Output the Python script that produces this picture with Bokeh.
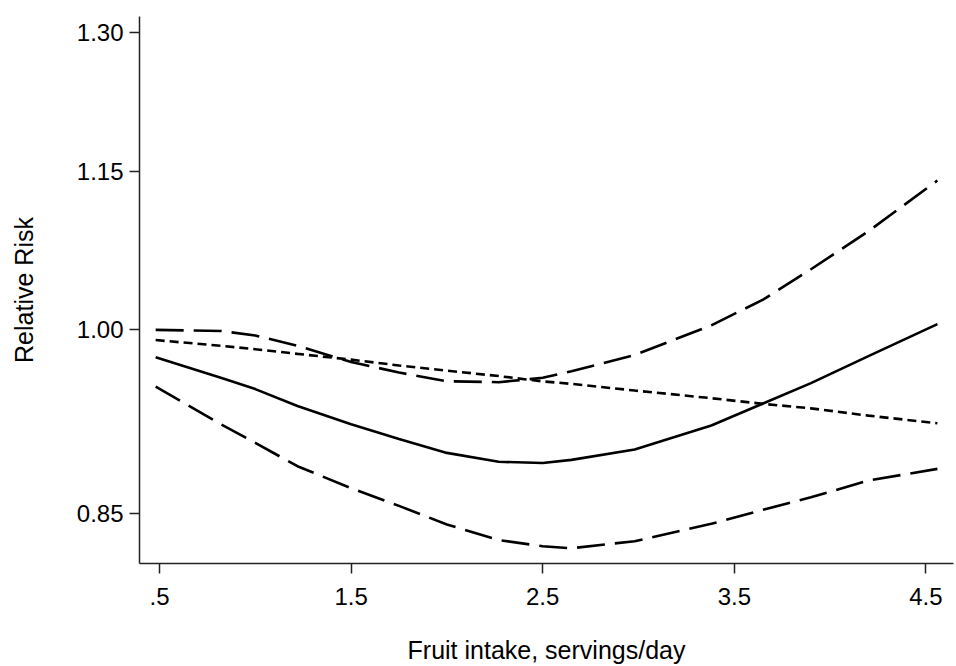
from bokeh.plotting import figure
from bokeh.models import Range1d, FixedTicker, PrintfTickFormatter
from bokeh.embed import file_html
from bokeh.resources import INLINE

# Fruit intake (servings/day)
intake = [0.48, 0.82, 1.0, 1.22, 1.5, 1.75, 2.0, 2.27, 2.5, 2.65, 2.98, 3.38, 3.65, 3.9, 4.2, 4.56]

# Relative risk, non-linear estimate
rr_spline = [0.976, 0.9585, 0.949, 0.935, 0.920, 0.908, 0.897, 0.890, 0.889, 0.8915, 0.8997, 0.919, 0.937, 0.954, 0.977, 1.005]
# Upper 95% CI
rr_upper = [1.000, 0.999, 0.995, 0.986, 0.972, 0.963, 0.9556, 0.9548, 0.9585, 0.964, 0.978, 1.004, 1.027, 1.055, 1.091, 1.141]
# Lower 95% CI
rr_lower = [0.951, 0.920, 0.905, 0.8865, 0.8695, 0.856, 0.842, 0.8305, 0.826, 0.8245, 0.8297, 0.8425, 0.853, 0.8625, 0.8754, 0.8844]
# Linear trend
rr_linear = [0.991, 0.986, 0.983, 0.979, 0.974, 0.969, 0.9646, 0.960, 0.9555, 0.9534, 0.9478, 0.9414, 0.9367, 0.933, 0.927, 0.9208]

x_ticks = [0.5, 1.5, 2.5, 3.5, 4.5]
x_tick_labels = [".5", "1.5", "2.5", "3.5", "4.5"]
y_ticks = [0.85, 1.00, 1.15, 1.30]
y_tick_labels = ["0.85", "1.00", "1.15", "1.30"]

x_title = "Fruit intake, servings/day"
y_title = "Relative Risk"

FONT = "Liberation Sans"

p = figure(width=956, height=666, y_axis_type="log",
           x_range=Range1d(0.3956, 4.644), y_range=Range1d(0.8135, 1.3189),
           output_backend="svg", toolbar_location=None,
           min_border_left=139, min_border_right=3, min_border_top=16, min_border_bottom=103)

p.outline_line_color = None
p.xgrid.grid_line_color = None
p.ygrid.grid_line_color = None
p.background_fill_color = "white"
p.border_fill_color = "white"

lw = 2.6
p.line(intake, rr_upper, line_color="black", line_width=lw, line_dash="28 10")
p.line(intake, rr_lower, line_color="black", line_width=lw, line_dash="28 10")
p.line(intake, rr_linear, line_color="black", line_width=lw, line_dash="9 5")
p.line(intake, rr_spline, line_color="black", line_width=lw)

p.xaxis.ticker = FixedTicker(ticks=x_ticks)
p.xaxis.major_label_overrides = dict(zip(x_ticks, x_tick_labels))
p.yaxis.ticker = FixedTicker(ticks=y_ticks)
p.yaxis.formatter = PrintfTickFormatter(format="%.2f")
p.yaxis.major_label_overrides = dict(zip(y_ticks, y_tick_labels))

for ax in (p.xaxis, p.yaxis):
    ax.axis_line_color = "#222222"
    ax.axis_line_width = 1.5
    ax.major_tick_line_color = "#222222"
    ax.major_tick_line_width = 1.5
    ax.major_tick_out = 10
    ax.major_tick_in = 0
    ax.minor_tick_line_color = None
    ax.major_label_text_font = FONT
    ax.major_label_text_font_size = "24px"
    ax.major_label_text_color = "black"
    ax.axis_label_text_font = FONT
    ax.axis_label_text_font_size = "25px"
    ax.axis_label_text_font_style = "normal"
    ax.axis_label_text_color = "black"

p.xaxis.axis_label = x_title
p.yaxis.axis_label = y_title
p.xaxis.major_label_standoff = 14
p.yaxis.major_label_standoff = 6
p.xaxis.axis_label_standoff = 28
p.yaxis.axis_label_standoff = 36

open("out.html", "w").write(file_html(p, INLINE))
